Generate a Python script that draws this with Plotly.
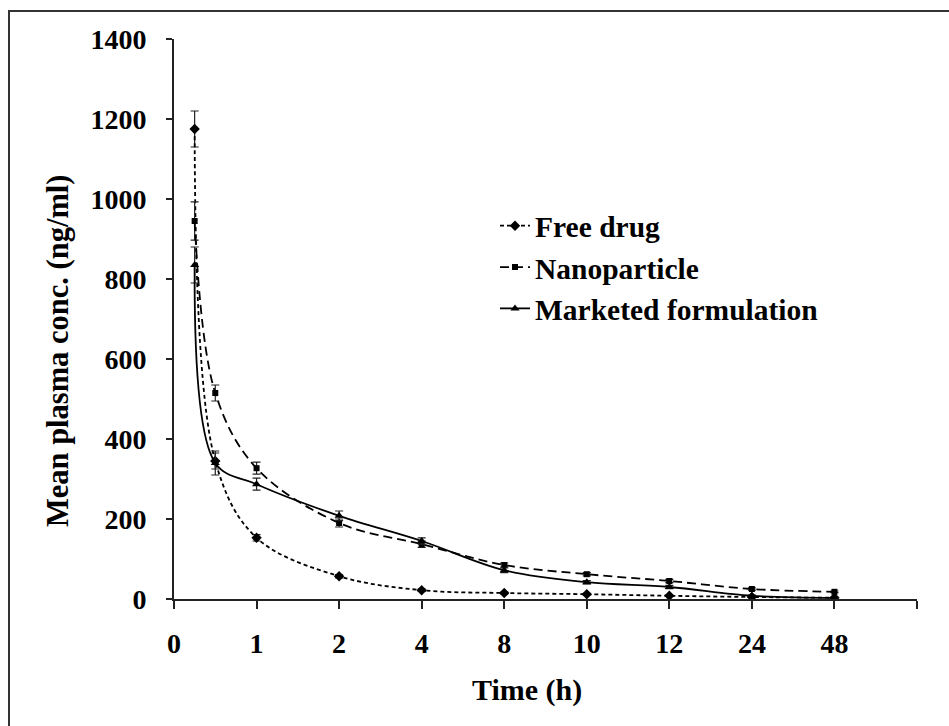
import plotly.graph_objects as go

# ---- data ----
time_labels = ["0", "1", "2", "4", "8", "10", "12", "24", "48"]
times = [0.25, 0.5, 1, 2, 4, 8, 10, 12, 24, 48]

free_drug = [1175, 345, 153, 57, 22, 15, 12, 8, 5, 3]
free_drug_err = [45, 20, 8, 4, 3, 2, 2, 1, 1, 1]

nanoparticle = [945, 515, 327, 190, 137, 85, 62, 45, 25, 18]
nanoparticle_err = [48, 20, 15, 10, 8, 5, 4, 4, 3, 2]

marketed = [835, 340, 287, 208, 145, 72, 42, 30, 8, 3]
marketed_err = [45, 30, 15, 12, 8, 6, 4, 4, 2, 1]

# category position mapping (Excel-style: first interval linear, then one slot per time point)
tick_times = [0, 1, 2, 4, 8, 10, 12, 24, 48]


def pos(t):
    if t <= 1:
        return t
    return tick_times.index(t)


xpos = [pos(t) for t in times]

FONT = "Liberation Serif"

fig = go.Figure()

series = [
    ("Free drug", free_drug, free_drug_err, "diamond", 8, "4px,3px"),
    ("Nanoparticle", nanoparticle, nanoparticle_err, "square", 6, "9px,5px"),
    ("Marketed formulation", marketed, marketed_err, "triangle-up", 8, "solid"),
]

for name, y, err, sym, msize, dash in series:
    fig.add_trace(go.Scatter(
        x=xpos, y=y, name=name, mode="lines+markers",
        line=dict(color="black", width=1.8, dash=dash, shape="spline", smoothing=1.0),
        marker=dict(symbol=sym, size=msize, color="black"),
        error_y=dict(type="data", array=err, visible=True, color="#222", thickness=1.2, width=4),
    ))

L, R, T, B = 174, 32, 39, 127
W, H = 949, 726
pw, ph = W - L - R, H - T - B

fig.update_layout(
    width=W, height=H,
    margin=dict(l=L, r=R, t=T, b=B),
    paper_bgcolor="white", plot_bgcolor="white",
    font=dict(family=FONT, color="black", size=28),
    showlegend=True,
    legend=dict(
        x=(495 - L) / pw, y=(599 - 200) / ph, xanchor="left", yanchor="top",
        font=dict(family=FONT, size=29.5, color="black", weight="bold"),
        bgcolor="rgba(0,0,0,0)", itemwidth=30, tracegroupgap=0,
    ),
    xaxis=dict(
        range=[0, 9], tickmode="array",
        tickvals=list(range(10)), ticktext=time_labels + [""],
        ticks="outside", ticklen=8, tickwidth=2, tickcolor="#222",
        showline=True, linecolor="#222", linewidth=2,
        showgrid=False, zeroline=False,
        tickfont=dict(family=FONT, size=28, color="black", weight="bold"),
        ticklabelstandoff=10,
    ),
    yaxis=dict(
        range=[0, 1400], tickmode="array", tickvals=list(range(0, 1401, 200)),
        ticks="outside", ticklen=6, tickwidth=2, tickcolor="#222",
        showline=True, linecolor="#222", linewidth=2,
        showgrid=False, zeroline=False,
        tickfont=dict(family=FONT, size=28, color="black", weight="bold"),
        ticklabelstandoff=14,
    ),
)

# axis titles as annotations (positions offset from plot center like the reference)
fig.add_annotation(
    text="Time (h)", xref="paper", yref="paper",
    x=(527 - L) / pw, y=(599 - 690) / ph, showarrow=False,
    font=dict(family=FONT, size=30, color="black", weight="bold"),
    xanchor="center", yanchor="middle",
)
fig.add_annotation(
    text="Mean plasma conc. (ng/ml)", xref="paper", yref="paper",
    x=(58 - L) / pw, y=(599 - 351) / ph, showarrow=False, textangle=-90,
    font=dict(family=FONT, size=30.5, color="black", weight="bold"),
    xanchor="center", yanchor="middle",
)

# outer frame (only top-left visible in reference)
fig.add_shape(
    type="rect", xref="paper", yref="paper",
    x0=(9 - L) / pw, x1=(W + 20 - L) / pw,
    y0=(599 - (H + 20)) / ph, y1=(599 - 11) / ph,
    line=dict(color="#333", width=2), fillcolor="rgba(0,0,0,0)", layer="below",
)

fig.write_html("out.html")
